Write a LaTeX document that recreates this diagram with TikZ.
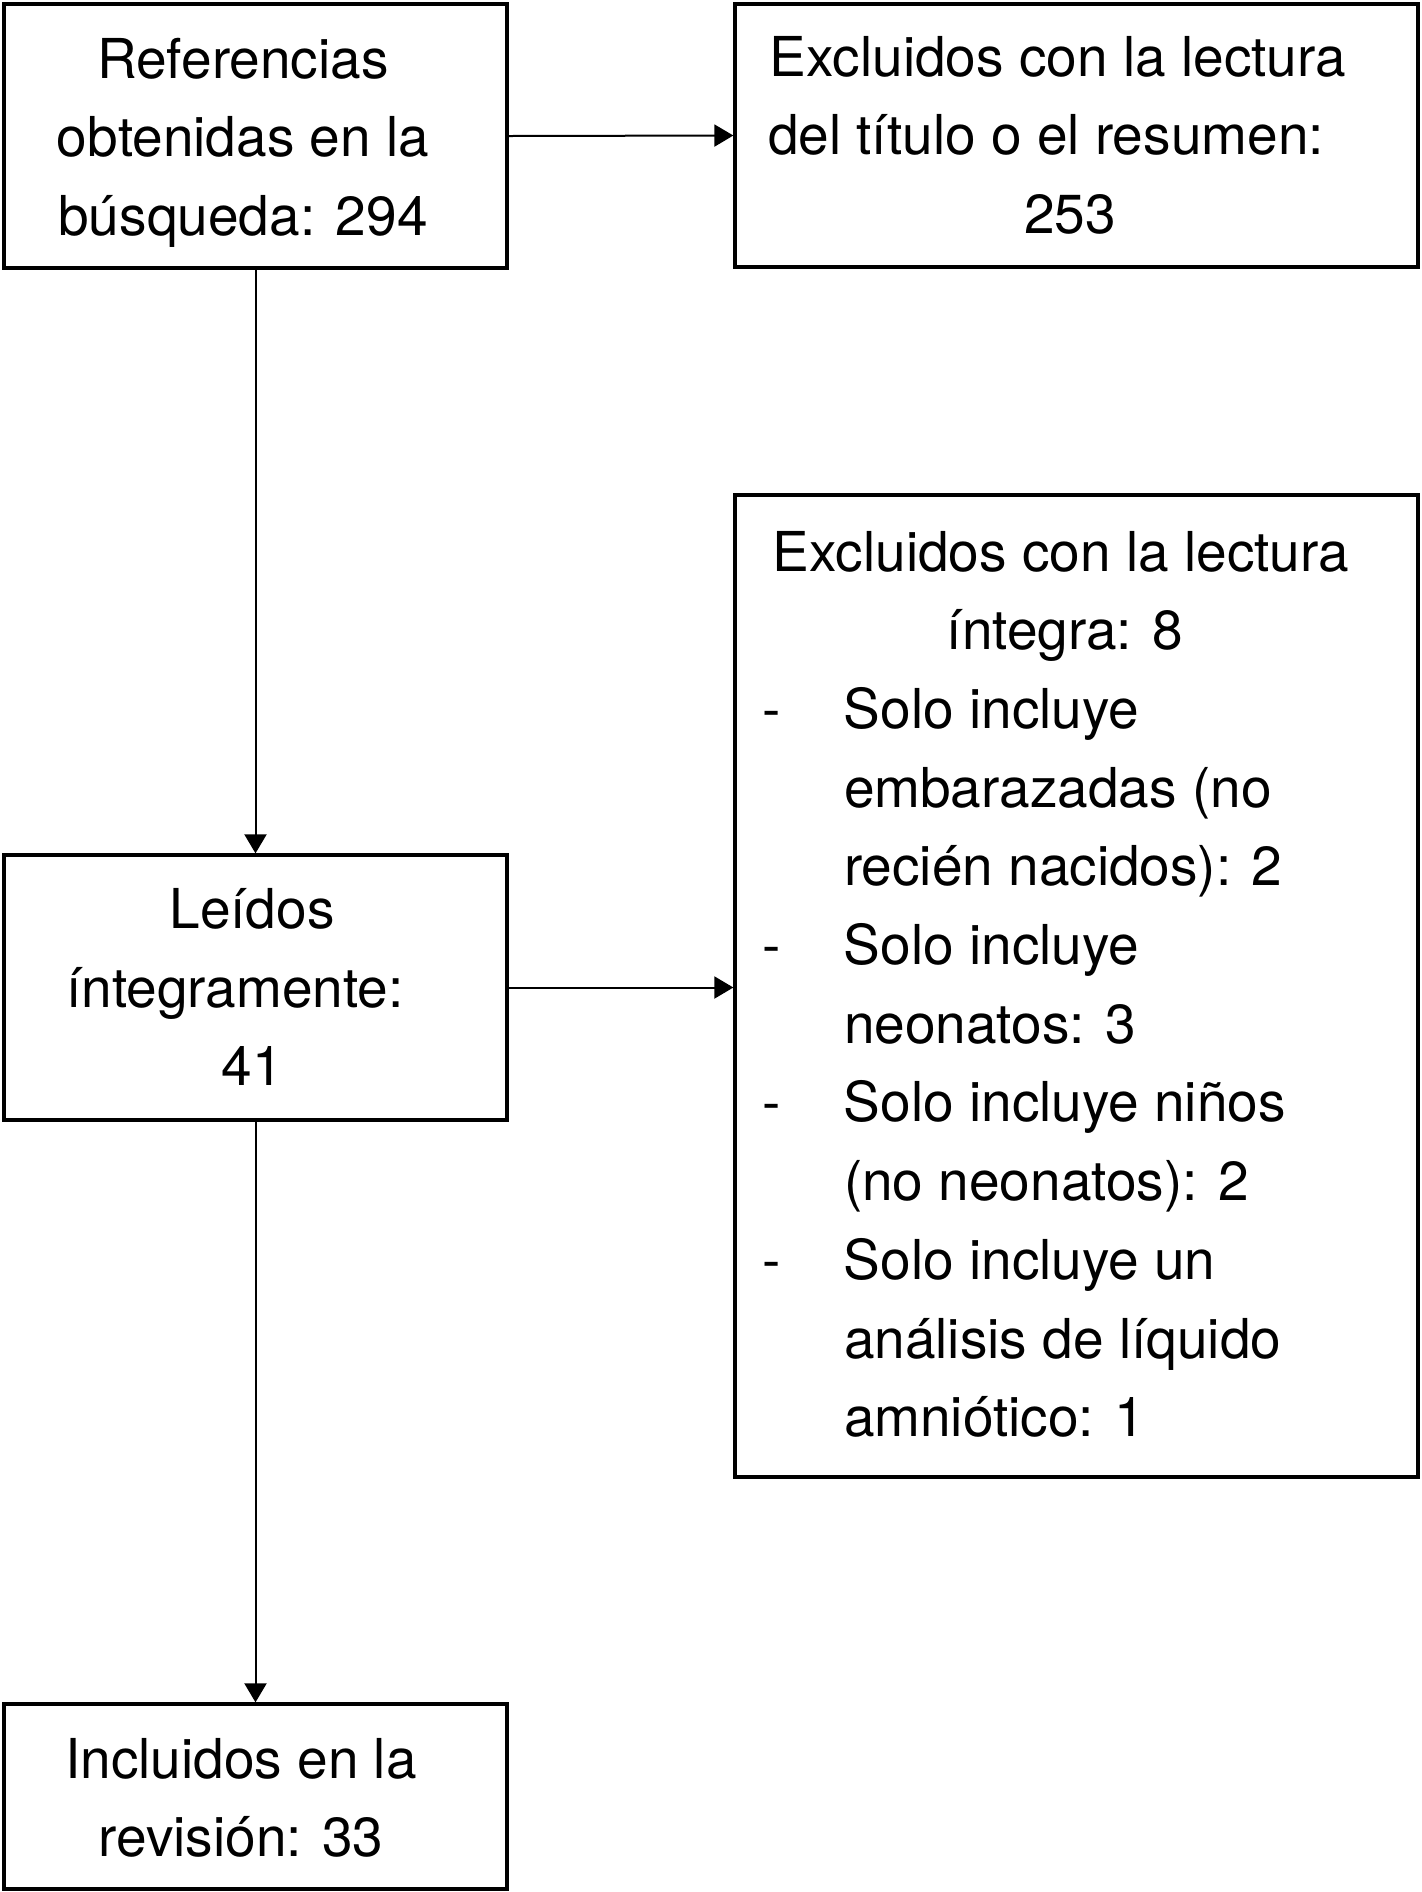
\documentclass[tikz,border=0pt]{standalone}
\usepackage{fontspec}
\setmainfont{TeX Gyre Heros}
\usetikzlibrary{arrows.meta,fit}
\begin{document}
\begin{tikzpicture}[x=0.5pt,y=-0.5pt,
  box/.style={draw, line width=1.65pt, inner sep=0pt, rectangle},
  txt/.style={inner sep=0pt, font=\fontsize{27.5pt}{39.35pt}\selectfont},
  conn/.style={draw, line width=1pt, -{Triangle[length=9.5pt,width=11pt]}}]
\useasboundingbox (0,0) rectangle (1422,1892);
% boxes
\node[box, fit={(4,4) (507,268)}] (b1) {};
\node[box, fit={(735,4) (1418,267)}] (b2) {};
\node[box, fit={(4,855) (507,1120)}] (b3) {};
\node[box, fit={(735,495) (1418,1477)}] (b4) {};
\node[box, fit={(4,1704) (507,1889)}] (b5) {};
% texts
\node[txt, anchor=base] (t1) at (243,78) {\parbox[t]{240pt}{\centering Referencias\\obtenidas en la\\búsqueda: 294}};
\node[txt, anchor=base] (t2) at (1058,76) {\parbox[t]{330pt}{\centering Excluidos con la lectura\\del título o el resumen:\kern12pt\\\hspace*{12pt}253}};
\node[txt, anchor=base] (t3) at (252,928.5) {\parbox[t]{240pt}{\centering Leídos\\íntegramente:\kern17pt\\41}};
\node[txt, anchor=base] (t4) at (1061,571) {\parbox[t]{330pt}{\centering Excluidos con la lectura\\\hspace*{4pt}íntegra: 8}};
\node[txt, anchor=base west] (t4l) at (761.6,728.4) {\parbox[t]{320pt}{\raggedright
\makebox[41pt][l]{-}Solo incluye\\
\hspace*{41pt}embarazadas (no\\
\hspace*{41pt}recién nacidos): 2\\
\makebox[41pt][l]{-}Solo incluye\\
\hspace*{41pt}neonatos: 3\\
\makebox[41pt][l]{-}Solo incluye niños\\
\hspace*{41pt}(no neonatos): 2\\
\makebox[41pt][l]{-}Solo incluye un\\
\hspace*{41pt}análisis de líquido\\
\hspace*{41pt}amniótico: 1}};
\node[txt, anchor=base] (t5) at (241,1778) {\parbox[t]{240pt}{\centering Incluidos en la\\revisión: 33}};
% connectors
\draw[conn] (b1.east) -- (b2.west);
\draw[conn] (b1.south) -- (b3.north);
\draw[conn] (b3.east) -- (b3.east -| b4.west);
\draw[conn] (b3.south) -- (b5.north);
\end{tikzpicture}
\end{document}
